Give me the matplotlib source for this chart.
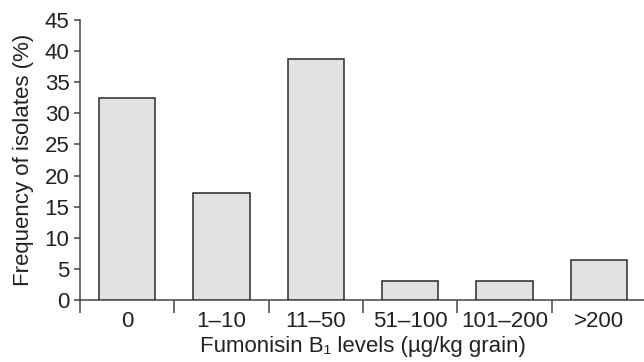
import matplotlib
matplotlib.use("Agg")
import matplotlib.pyplot as plt
import numpy as np

categories = ["0", "1\u201310", "11\u201350", "51\u2013100", "101\u2013200", ">200"]
values = [32.5, 17.2, 38.8, 3.1, 3.1, 6.4]
yticks = [0, 5, 10, 15, 20, 25, 30, 35, 40, 45]

plt.rcParams['font.family'] = ['Liberation Sans', 'DejaVu Sans']
fs = 16
fig = plt.figure(figsize=(6.44, 3.62), dpi=100)
ax = fig.add_axes([80/644, 1 - 300/362, (646-80)/644, 280/362])

x = np.arange(len(categories))
ax.bar(x, values, width=0.6, color="#e1e2e4", edgecolor="#2a2a2a", linewidth=1.1, zorder=3)

ax.set_xlim(-0.5, len(categories) - 0.5)
ax.set_ylim(0, 45)
ax.set_yticks(yticks)
ax.set_yticklabels([str(t) for t in yticks])

ax.set_xticks(x)
ax.set_xticklabels(categories)
ax.set_xticks(np.arange(len(categories)) - 0.5, minor=True)
ax.tick_params(axis='x', which='major', length=0, pad=8, labelsize=fs, colors="#222222")
ax.tick_params(axis='x', which='minor', length=9, width=1.1, color="#444444", direction='out')
ax.tick_params(axis='y', length=4.5, width=1.1, color="#444444", pad=3, labelsize=fs, labelcolor="#222222")

for s in ["top", "right"]:
    ax.spines[s].set_visible(False)
for s in ["left", "bottom"]:
    ax.spines[s].set_color("#444444")
    ax.spines[s].set_linewidth(1.1)

ax.set_ylabel("Frequency of isolates (%)", fontsize=fs, color="#222222", labelpad=8)
ax.set_xlabel("Fumonisin B\u2081 levels (\u00b5g/kg grain)", fontsize=fs, color="#222222", labelpad=3)

fig.savefig("out.png", dpi=100)
